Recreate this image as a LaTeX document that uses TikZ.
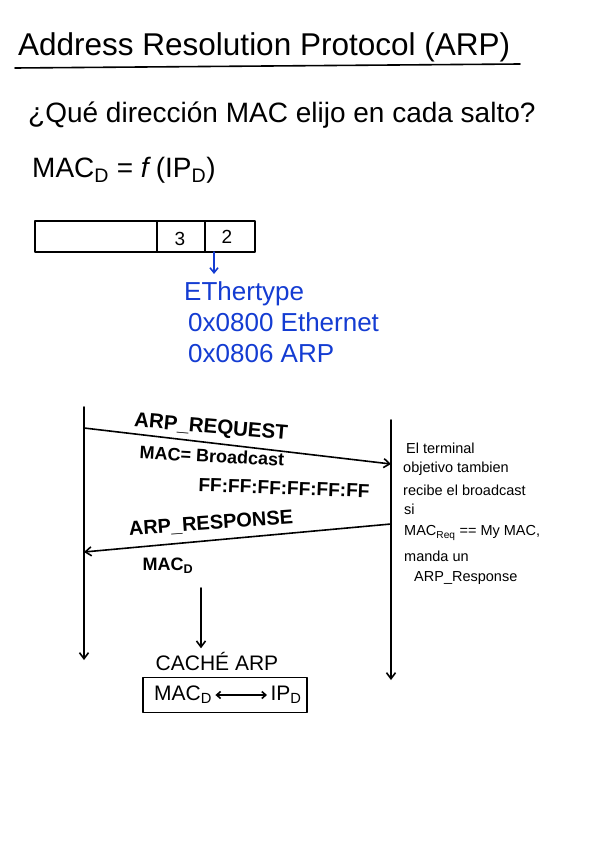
\documentclass[tikz,border=0pt]{standalone}
\usepackage{fontspec}
\setmainfont{Liberation Sans}
\usetikzlibrary{arrows.meta}
\definecolor{inkblue}{RGB}{20,60,210}
\tikzset{
  pen/.style={line width=1.6pt, line cap=round, line join=round},
  msg/.style={pen, -{Straight Barb[length=6pt,width=9pt]}},
  note/.style={font=\fontsize{14.5}{16}\selectfont, anchor=west, inner sep=0pt},
  hand/.style={inner sep=0pt}
}
\begin{document}
\begin{tikzpicture}[x=1pt,y=-1pt]
  \useasboundingbox (0,0) rectangle (600,848);
  % title and underline
  \node[hand, anchor=west, font=\fontsize{31.5}{34}\selectfont] (title) at (18,47) {Address Resolution Protocol (ARP)};
  \draw[pen] (15,68) -- (520,64);
  % question
  \node[hand, anchor=west, font=\fontsize{28}{30}\selectfont] (quest) at (28,115) {¿Qué dirección MAC elijo en cada salto?};
  \node[hand, anchor=west, font=\fontsize{28}{30}\selectfont] (func) at (32,170) {MAC\textsubscript{D} = \textit{f}\,(IP\textsubscript{D})};
  % frame with its fields
  \draw[pen] (35,221) rectangle (255,252);
  \draw[pen] (157,221) -- (157,252);
  \draw[pen] (205,221) -- (205,252);
  \node[font=\fontsize{19}{20}\selectfont] (fthree) at (180,239) {3};
  \node[font=\fontsize{19}{20}\selectfont] (ftwo) at (227,237) {2};
  % ethertype note
  \node[hand, anchor=west, text=inkblue, font=\fontsize{26}{28}\selectfont] (ethtype) at (184,294) {EThertype};
  \node[hand, anchor=west, text=inkblue, font=\fontsize{26}{28}\selectfont] (ethip) at (188,322) {0x0800 Ethernet};
  \node[hand, anchor=west, text=inkblue, font=\fontsize{26}{28}\selectfont] (etharp) at (188,354) {0x0806 ARP};
  \coordinate (fldtwo) at (214,252);
  \draw[pen, inkblue, -{Straight Barb[length=5pt,width=8pt]}] (fldtwo) -- ++(0,22);
  % lifelines
  \coordinate (hostA) at (84,407);
  \coordinate (hostAend) at (84,660);
  \coordinate (hostB) at (391,420);
  \coordinate (hostBend) at (391,680);
  \draw[msg] (hostA) -- (hostAend);
  \draw[msg] (hostB) -- (hostBend);
  % request
  \coordinate (reqS) at (84,428);
  \coordinate (reqE) at (391,464);
  \draw[msg] (reqS) -- (reqE);
  \node[rotate=-5, font=\fontsize{20.5}{22}\selectfont\bfseries] (reqlbl) at (211,428) {ARP\_REQUEST};
  \node[rotate=-3, font=\fontsize{18}{20}\selectfont\bfseries] (bcast) at (212,456) {MAC= Broadcast};
  \node[rotate=-2, font=\fontsize{19}{20}\selectfont\bfseries] (ffs) at (284,488) {FF:FF:FF:FF:FF:FF};
  % response
  \coordinate (resS) at (391,524);
  \coordinate (resE) at (84,552);
  \draw[msg] (resS) -- (resE);
  \node[rotate=4, font=\fontsize{20}{22}\selectfont\bfseries] (reslbl) at (211,524) {ARP\_RESPONSE};
  \node[font=\fontsize{18}{20}\selectfont\bfseries] (macd) at (168,566) {MAC\textsubscript{D}};
  % note of the target terminal
  \node[note] (n1) at (406,448) {El terminal};
  \node[note] (n2) at (403,469) {objetivo tambien};
  \node[note] (n3) at (403,490) {recibe el broadcast};
  \node[note] (n4) at (404,509) {si};
  \node[note] (n5) at (404,533) {MAC\textsubscript{Req} == My MAC,};
  \node[note] (n6) at (404,556) {manda un};
  \node[note] (n7) at (414,578) {ARP\_Response};
  % arp cache
  \node[font=\fontsize{21}{22}\selectfont] (cachelbl) at (217,661) {CACHÉ ARP};
  \node[draw, pen, minimum width=164pt, minimum height=35pt] (cache) at (225,695) {};
  \node[font=\fontsize{21}{22}\selectfont] (cmac) at (183,695) {MAC\textsubscript{D}};
  \node[font=\fontsize{21}{22}\selectfont] (cip) at (286,695) {IP\textsubscript{D}};
  \draw[pen, {Straight Barb[length=4pt,width=7pt]}-{Straight Barb[length=4pt,width=7pt]}] (cmac) -- (cip);
  \coordinate (dn) at (201,588);
  \draw[msg] (dn) -- (cachelbl.north -| dn);
\end{tikzpicture}
\end{document}
